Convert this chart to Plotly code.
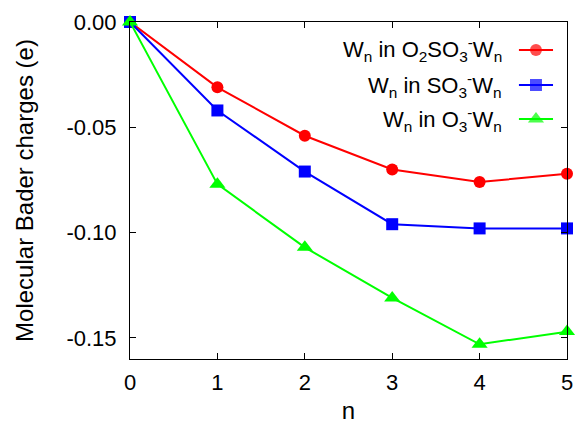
import plotly.graph_objects as go

n_values = [0, 1, 2, 3, 4, 5]
o2so3_w = [0.0, -0.031, -0.054, -0.070, -0.076, -0.072]
so3_w = [0.0, -0.042, -0.071, -0.096, -0.098, -0.098]
o3_w = [0.0, -0.077, -0.107, -0.131, -0.153, -0.147]

series_names = [
    "W<sub>n</sub> in O<sub>2</sub>SO<sub>3</sub><sup>-</sup>W<sub>n</sub>",
    "W<sub>n</sub> in SO<sub>3</sub><sup>-</sup>W<sub>n</sub>",
    "W<sub>n</sub> in O<sub>3</sub><sup>-</sup>W<sub>n</sub>",
]
series_values = [o2so3_w, so3_w, o3_w]
series_colors = ["#FF0000", "#0000FF", "#00FF00"]
series_symbols = ["circle", "square", "triangle-up"]
series_sizes = [12, 12, 14]

y_ticks = [0.0, -0.05, -0.10, -0.15]
y_tick_labels = ["0.00", "-0.05", "-0.10", "-0.15"]
x_ticks = [0, 1, 2, 3, 4, 5]

FONT = "Liberation Sans, Arial, Helvetica, sans-serif"
TITLE_FONT = dict(family=FONT, size=24, color="black")
fig = go.Figure()

for name, vals, col, sym, sz in zip(series_names, series_values, series_colors, series_symbols, series_sizes):
    fig.add_trace(go.Scatter(
        x=n_values, y=vals, mode="lines+markers", name=name,
        line=dict(color=col, width=2),
        marker=dict(symbol=sym, size=sz, color=col, line=dict(width=0)),
        cliponaxis=False, showlegend=False,
    ))

# custom legend (symbol to the right of right-aligned text)
leg_rows = [0.917, 0.813, 0.712]
leg_x0, leg_x1 = 0.890, 0.968
for name, col, sym, sz, ry in zip(series_names, series_colors, series_symbols, series_sizes, leg_rows):
    fig.add_trace(go.Scatter(
        x=[leg_x0, (leg_x0 + leg_x1) / 2, leg_x1], y=[ry, ry, ry],
        mode="lines+markers", xaxis="x2", yaxis="y2",
        line=dict(color=col, width=2),
        marker=dict(symbol=sym, size=[0, sz, 0], color=col, line=dict(width=0)),
        showlegend=False, hoverinfo="skip",
    ))
    fig.add_annotation(
        text=name, x=0.856, y=ry, xref="paper", yref="paper",
        xanchor="right", yanchor="middle", showarrow=False,
        font=dict(family=FONT, size=22, color="black"),
    )

fig.update_layout(
    width=578, height=424,
    margin=dict(l=130, r=11, t=22, b=65),
    paper_bgcolor="white", plot_bgcolor="white",
    font=dict(family=FONT, size=22, color="black"),
    xaxis=dict(
        range=[0, 5], tickvals=x_ticks, ticks="inside", ticklen=6,
        tickcolor="black", showline=True, linecolor="black", linewidth=1,
        mirror="ticks", showgrid=False, zeroline=False, automargin=False,
        ticklabelstandoff=4,
        title=dict(text="n", standoff=18, font=TITLE_FONT),
    ),
    yaxis=dict(
        range=[-0.16, 0.0], tickvals=y_ticks, ticktext=y_tick_labels,
        ticks="inside", ticklen=6, tickcolor="black",
        showline=True, linecolor="black", linewidth=1, mirror="ticks",
        showgrid=False, zeroline=False, automargin=False,
        ticklabelstandoff=8,
        title=dict(text="Molecular Bader charges (e)", standoff=26, font=TITLE_FONT),
    ),
    xaxis2=dict(range=[0, 1], overlaying="x", visible=False, fixedrange=True),
    yaxis2=dict(range=[0, 1], overlaying="y", visible=False, fixedrange=True),
)

fig.write_html("out.html", config={"displayModeBar": False},
               post_script="document.body.style.margin='0';")
